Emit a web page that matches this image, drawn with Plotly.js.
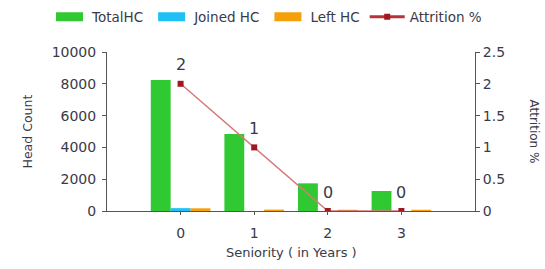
<!DOCTYPE html>
<html><head><meta charset="utf-8">
<script src="https://cdn.plot.ly/plotly-3.0.1.min.js"></script>
<style>html,body{margin:0;padding:0;background:#fff}#chart{width:545px;height:269px}</style>
</head><body><div id="chart"></div>
<script>
const categories = [0, 1, 2, 3];
const totalHC = [8240, 4840, 1740, 1260];
const joinedHC = [180, 0, 0, 0];
const leftHC = [170, 90, 80, 80];
const attrition = [2, 1, 0, 0];
const attritionLabels = ['2', '1', '0', '0'];

const FAM = 'DejaVu Sans, Liberation Sans, Arial, sans-serif';
const TXT = '#3a3a48';
const traces = [
  {type: 'bar', name: 'TotalHC', x: categories, y: totalHC, marker: {color: '#31c931'}},
  {type: 'bar', name: 'Joined HC', x: categories, y: joinedHC, marker: {color: '#1ec0f5'}},
  {type: 'bar', name: 'Left HC', x: categories, y: leftHC, marker: {color: '#f5a00a'}},
  {type: 'scatter', mode: 'lines+markers', name: 'Attrition %', x: categories, y: attrition,
   yaxis: 'y2',
   line: {color: '#d47a7a', width: 1.5}, marker: {color: '#a01820', symbol: 'square', size: 6}}
];
const labelAnns = categories.map((c, i) => ({
  x: c, y: attrition[i], xref: 'x', yref: 'y2', text: attritionLabels[i], showarrow: false,
  yshift: 19, xanchor: 'center', yanchor: 'middle', font: {family: FAM, size: 16, color: TXT}
}));
const layout = {
  width: 545, height: 269,
  margin: {l: 107, r: 70, t: 52, b: 58, autoexpand: false},
  font: {family: FAM, size: 13, color: TXT},
  paper_bgcolor: '#fff', plot_bgcolor: '#fff',
  barmode: 'group', bargap: 0.19, bargroupgap: 0,
  showlegend: true,
  legend: {orientation: 'h', xref: 'paper', yref: 'paper', x: -0.163, xanchor: 'left', y: 1.318, yanchor: 'top',
           font: {family: FAM, size: 13.5, color: TXT}, traceorder: 'normal', itemwidth: 35},
  xaxis: {range: [-1, 4], tickvals: categories, ticktext: categories.map(String), showgrid: false, zeroline: false,
          showline: true, linecolor: '#555', linewidth: 1, ticks: 'outside', ticklen: 3, tickcolor: '#555',
          tickfont: {size: 14}, ticklabelstandoff: 6},
  yaxis: {range: [0, 10000], dtick: 2000, tickformat: 'd', showgrid: false, zeroline: false, showline: true, linecolor: '#555',
          ticks: 'outside', ticklen: 4, tickcolor: '#555', tickfont: {size: 14}, ticklabelstandoff: 3},
  yaxis2: {range: [0, 2.5], dtick: 0.5, overlaying: 'y', side: 'right', showgrid: false, zeroline: false,
           showline: true, linecolor: '#555', ticks: 'outside', ticklen: 4, tickcolor: '#555',
           tickfont: {size: 14}},
  annotations: [
    {text: 'Seniority ( in Years )', xref: 'paper', yref: 'paper', x: 0.5, y: -0.264, showarrow: false,
     xanchor: 'center', yanchor: 'middle', font: {family: FAM, size: 13, color: TXT}},
    {text: 'Head Count', xref: 'paper', yref: 'paper', x: -0.2147, y: 0.5, textangle: -90, showarrow: false,
     xanchor: 'center', yanchor: 'middle', font: {family: FAM, size: 12.5, color: TXT}},
    {text: 'Attrition %', xref: 'paper', yref: 'paper', x: 1.163, y: 0.5, textangle: 90, showarrow: false,
     xanchor: 'center', yanchor: 'middle', font: {family: FAM, size: 12, color: TXT}}
  ].concat(labelAnns)
};
Plotly.newPlot('chart', traces, layout, {displayModeBar: false, staticPlot: true}).then(gd => {
  gd.querySelectorAll('.legend .traces').forEach(tr => {
    tr.querySelectorAll('.legendpoints path').forEach(p => {
      if (p.closest('.legendbar') || (p.getAttribute('d') || '').indexOf('M6,6H-6') === 0) {
        p.setAttribute('d', 'M13.5,4.5H-13.5V-4.5H13.5Z');
      }
    });
    tr.querySelectorAll('.legendlines path').forEach(p => {
      p.style.stroke = '#b8323a'; p.style.strokeWidth = '3px';
    });
  });
});
</script></body></html>
